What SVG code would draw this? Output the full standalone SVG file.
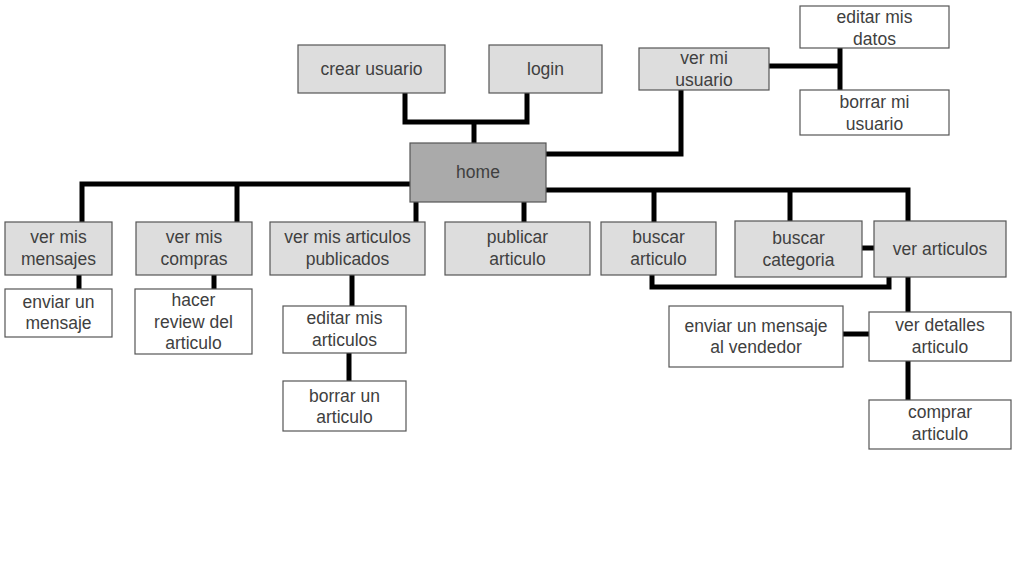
<svg xmlns="http://www.w3.org/2000/svg" width="1021" height="586" viewBox="0 0 1021 586">
<style>
.b{stroke:#555;stroke-width:1.2}
.g{fill:#dddddd}
.w{fill:#ffffff}
.h{fill:#aaaaaa}
text{font-family:"Liberation Sans",Arial,sans-serif;font-size:17.5px;fill:#404040;text-anchor:middle}
#connectors path{fill:none;stroke:#000;stroke-width:5;stroke-linejoin:miter}
</style>
<rect width="1021" height="586" fill="#fff"/>
<g id="connectors">
<path d="M405 93 V122 H527 V93"/>
<path d="M474 122 V143"/>
<path d="M546 154 H681 V90"/>
<path d="M769 66 H840"/>
<path d="M840 48 V90"/>
<path d="M410 184 H82 V222"/>
<path d="M237 184 V222"/>
<path d="M416 202 V222"/>
<path d="M524 202 V222"/>
<path d="M546 190 H908 V221"/>
<path d="M654 190 V222"/>
<path d="M790 190 V221"/>
<path d="M862 248 H874"/>
<path d="M652 275 V287 H889 V277"/>
<path d="M908 277 V312"/>
<path d="M843 334 H869"/>
<path d="M908 361 V400"/>
<path d="M79 275 V289"/>
<path d="M214 275 V289"/>
<path d="M352 275 V306"/>
<path d="M349 353 V381"/>
</g>
<g id="crear-usuario"><rect class="b g" x="298" y="45" width="147" height="48"/><text x="371.5" y="75">crear usuario</text></g>
<g id="login"><rect class="b g" x="489" y="45" width="113" height="48"/><text x="545.5" y="75">login</text></g>
<g id="home"><rect class="b h" x="410" y="143" width="136" height="59"/><text x="478" y="178">home</text></g>
<g id="ver-mi-usuario"><rect class="b g" x="639" y="48" width="130" height="42"/><text x="704" y="64">ver mi</text><text x="704" y="86">usuario</text></g>
<g id="editar-mis-datos"><rect class="b w" x="800" y="6" width="149" height="42"/><text x="874.5" y="23">editar mis</text><text x="874.5" y="45">datos</text></g>
<g id="borrar-mi-usuario"><rect class="b w" x="800" y="90" width="149" height="45"/><text x="874.5" y="108">borrar mi</text><text x="874.5" y="130">usuario</text></g>
<g id="ver-mis-mensajes"><rect class="b g" x="5" y="222" width="107" height="53"/><text x="58.5" y="243">ver mis</text><text x="58.5" y="265">mensajes</text></g>
<g id="ver-mis-compras"><rect class="b g" x="136" y="222" width="116" height="53"/><text x="194" y="243">ver mis</text><text x="194" y="265">compras</text></g>
<g id="ver-mis-articulos-publicados"><rect class="b g" x="270" y="222" width="155" height="53"/><text x="347.5" y="243">ver mis articulos</text><text x="347.5" y="265">publicados</text></g>
<g id="enviar-un-mensaje"><rect class="b w" x="5" y="289" width="107" height="48"/><text x="58.5" y="308">enviar un</text><text x="58.5" y="329">mensaje</text></g>
<g id="hacer-review"><rect class="b w" x="135" y="289" width="117" height="65"/><text x="193.5" y="306">hacer</text><text x="193.5" y="328">review del</text><text x="193.5" y="349">articulo</text></g>
<g id="editar-mis-articulos"><rect class="b w" x="283" y="306" width="123" height="47"/><text x="344.5" y="324">editar mis</text><text x="344.5" y="346">articulos</text></g>
<g id="borrar-un-articulo"><rect class="b w" x="283" y="381" width="123" height="50"/><text x="344.5" y="402">borrar un</text><text x="344.5" y="423">articulo</text></g>
<g id="publicar-articulo"><rect class="b g" x="445" y="222" width="145" height="53"/><text x="517.5" y="243">publicar</text><text x="517.5" y="265">articulo</text></g>
<g id="buscar-articulo"><rect class="b g" x="601" y="222" width="115" height="53"/><text x="658.5" y="243">buscar</text><text x="658.5" y="265">articulo</text></g>
<g id="buscar-categoria"><rect class="b g" x="735" y="221" width="127" height="56"/><text x="798.5" y="244">buscar</text><text x="798.5" y="266">categoria</text></g>
<g id="ver-articulos"><rect class="b g" x="874" y="221" width="132" height="56"/><text x="940" y="255">ver articulos</text></g>
<g id="enviar-mensaje-vendedor"><rect class="b w" x="669" y="306" width="174" height="61"/><text x="756" y="332">enviar un mensaje</text><text x="756" y="353">al vendedor</text></g>
<g id="ver-detalles-articulo"><rect class="b w" x="869" y="312" width="142" height="49"/><text x="940" y="331">ver detalles</text><text x="940" y="353">articulo</text></g>
<g id="comprar-articulo"><rect class="b w" x="869" y="400" width="142" height="49"/><text x="940" y="418">comprar</text><text x="940" y="440">articulo</text></g>
</svg>
